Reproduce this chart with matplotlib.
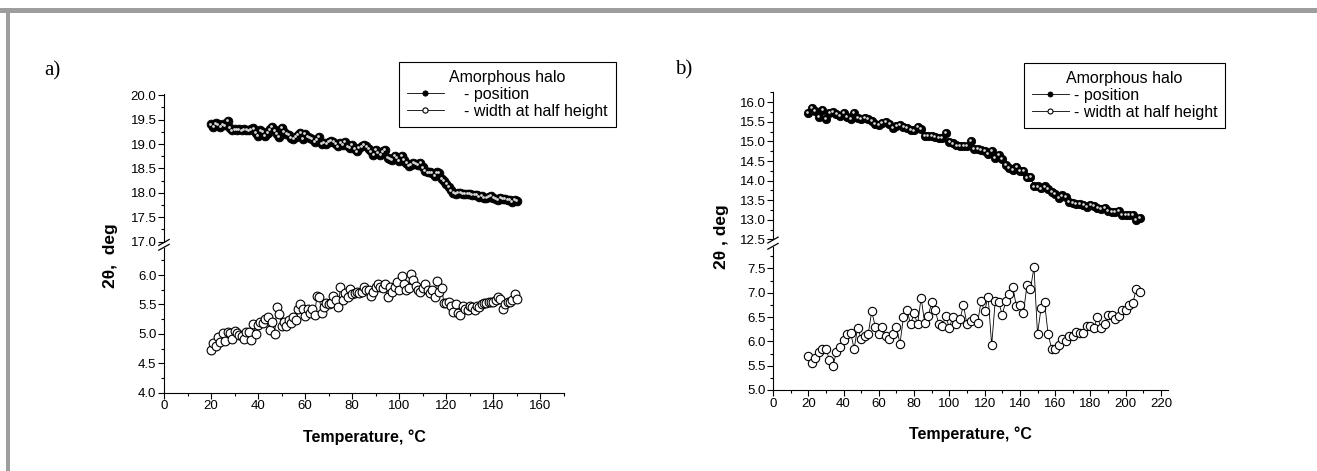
import numpy as np
import matplotlib
matplotlib.use("Agg")
import matplotlib.pyplot as plt
import matplotlib.transforms as mtransforms
from matplotlib.ticker import MultipleLocator
from matplotlib.patches import Rectangle

plt.rcParams['font.family'] = ['Liberation Sans', 'DejaVu Sans']

# ---- data ----
temp_a = np.arange(20, 151)
pos_a = [19.40, 19.35, 19.42, 19.40, 19.35, 19.40, 19.38, 19.47, 19.33, 19.28,
         19.30, 19.29, 19.30, 19.28, 19.30, 19.29, 19.28, 19.30, 19.32, 19.22,
         19.17, 19.28, 19.25, 19.17, 19.22, 19.30, 19.35, 19.28, 19.20, 19.14,
         19.33, 19.25, 19.20, 19.18, 19.12, 19.10, 19.15, 19.18, 19.22, 19.10,
         19.20, 19.15, 19.12, 19.10, 19.05, 19.08, 19.15, 19.00, 19.02, 19.00,
         19.05, 19.06, 19.05, 19.00, 18.95, 19.02, 18.98, 19.05, 18.95, 18.92,
         18.98, 18.90, 18.85, 18.92, 18.95, 18.98, 18.95, 18.90, 18.85, 18.78,
         18.88, 18.82, 18.78, 18.85, 18.88, 18.72, 18.70, 18.68, 18.75, 18.72,
         18.65, 18.75, 18.68, 18.62, 18.55, 18.58, 18.62, 18.60, 18.58, 18.62,
         18.52, 18.45, 18.42, 18.42, 18.40, 18.35, 18.42, 18.40, 18.28, 18.25,
         18.18, 18.12, 18.05, 18.00, 17.98, 18.00, 18.00, 17.98, 17.98, 17.97,
         17.98, 17.96, 17.95, 17.95, 17.92, 17.93, 17.90, 17.90, 17.92, 17.93,
         17.90, 17.88, 17.85, 17.90, 17.88, 17.87, 17.85, 17.86, 17.82, 17.85,
         17.84]
width_a = [4.72, 4.85, 4.80, 4.95, 4.86, 5.02, 4.88, 5.03, 5.02, 4.92,
           5.05, 5.02, 4.98, 4.96, 4.91, 5.03, 5.03, 4.89, 5.17, 5.00,
           5.15, 5.20, 5.18, 5.25, 5.28, 5.06, 5.20, 5.00, 5.45, 5.33,
           5.14, 5.21, 5.14, 5.24, 5.18, 5.28, 5.24, 5.43, 5.51, 5.42,
           5.30, 5.42, 5.35, 5.42, 5.32, 5.65, 5.62, 5.35, 5.45, 5.53,
           5.50, 5.52, 5.65, 5.58, 5.45, 5.80, 5.58, 5.70, 5.62, 5.76,
           5.68, 5.70, 5.72, 5.70, 5.72, 5.80, 5.75, 5.75, 5.65, 5.72,
           5.80, 5.85, 5.80, 5.78, 5.85, 5.63, 5.80, 5.72, 5.80, 5.88,
           5.75, 5.98, 5.85, 5.75, 5.78, 6.02, 5.92, 5.82, 5.75, 5.72,
           5.78, 5.85, 5.75, 5.70, 5.75, 5.62, 5.90, 5.72, 5.78, 5.52,
           5.52, 5.55, 5.48, 5.38, 5.50, 5.35, 5.32, 5.48, 5.42, 5.40,
           5.48, 5.45, 5.40, 5.48, 5.45, 5.50, 5.52, 5.52, 5.55, 5.55,
           5.55, 5.58, 5.62, 5.60, 5.42, 5.50, 5.55, 5.55, 5.58, 5.68,
           5.60]

temp_b = np.arange(20, 209, 2)
pos_b = [15.72, 15.85, 15.78, 15.62, 15.80, 15.58, 15.72, 15.75, 15.70, 15.65,
         15.72, 15.62, 15.58, 15.72, 15.60, 15.58, 15.60, 15.58, 15.52, 15.45,
         15.42, 15.48, 15.50, 15.45, 15.35, 15.40, 15.42, 15.38, 15.35, 15.30,
         15.28, 15.38, 15.32, 15.15, 15.15, 15.15, 15.12, 15.10, 15.08, 15.22,
         14.98, 14.95, 14.90, 14.88, 14.88, 14.88, 15.02, 14.80, 14.80, 14.78,
         14.75, 14.68, 14.75, 14.58, 14.65, 14.55, 14.40, 14.32, 14.28, 14.35,
         14.25, 14.25, 14.08, 14.10, 13.85, 13.85, 13.80, 13.85, 13.78, 13.72,
         13.65, 13.55, 13.62, 13.58, 13.45, 13.42, 13.40, 13.40, 13.38, 13.32,
         13.38, 13.35, 13.30, 13.28, 13.30, 13.22, 13.20, 13.20, 13.22, 13.12,
         13.12, 13.12, 13.12, 13.00, 13.05]
width_b = [5.70, 5.55, 5.65, 5.78, 5.85, 5.85, 5.62, 5.50, 5.78, 5.88,
           6.03, 6.15, 6.18, 5.85, 6.28, 6.05, 6.10, 6.15, 6.62, 6.30,
           6.15, 6.30, 6.12, 6.05, 6.15, 6.30, 5.95, 6.50, 6.65, 6.35,
           6.58, 6.35, 6.90, 6.38, 6.52, 6.80, 6.65, 6.35, 6.32, 6.52,
           6.28, 6.50, 6.35, 6.45, 6.75, 6.35, 6.42, 6.48, 6.38, 6.82,
           6.62, 6.92, 5.92, 6.82, 6.80, 6.55, 6.82, 6.98, 7.12, 6.72,
           6.75, 6.58, 7.15, 7.08, 7.52, 6.15, 6.68, 6.80, 6.15, 5.85,
           5.85, 5.92, 6.05, 6.00, 6.12, 6.12, 6.20, 6.18, 6.18, 6.32,
           6.32, 6.28, 6.50, 6.28, 6.35, 6.55, 6.55, 6.45, 6.52, 6.65,
           6.65, 6.75, 6.78, 7.08, 7.02]

W, H = 1317, 471
fig = plt.figure(figsize=(W / 100, H / 100), dpi=100)


def px_rect(left, right, top, bottom):
    return [left / W, 1 - bottom / H, (right - left) / W, (bottom - top) / H]


def style_axis(ax, show_x):
    ax.spines['top'].set_visible(False)
    ax.spines['right'].set_visible(False)
    ax.yaxis.set_major_locator(MultipleLocator(0.5))
    ax.yaxis.set_minor_locator(MultipleLocator(0.25))
    ax.yaxis.set_major_formatter('{x:.1f}')
    ax.tick_params(axis='both', which='major', direction='out', length=4, width=0.8, labelsize=9.5, pad=1.5)
    ax.tick_params(axis='both', which='minor', direction='out', length=2.2, width=0.8)
    if show_x:
        ax.xaxis.set_major_locator(MultipleLocator(20))
        ax.xaxis.set_minor_locator(MultipleLocator(10))
    else:
        ax.spines['bottom'].set_visible(False)
        ax.tick_params(axis='x', which='both', bottom=False, labelbottom=False)


def break_marks(ax_up, ax_lo):
    kw = dict(color='black', lw=0.9, clip_on=False)
    ax_lo.plot([-0.013, 0.013], [0.985, 1.025], transform=ax_lo.transAxes, **kw)
    ax_up.plot([-0.013, 0.013], [-0.025, 0.015], transform=ax_up.transAxes, **kw)


def draw_panel(rect_up, rect_lo, temp, pos, width, xlim, ylim_up, ylim_lo, ms):
    ax_up = fig.add_axes(rect_up)
    ax_lo = fig.add_axes(rect_lo)
    line_pos, = ax_up.plot(temp, pos, '-', color='black', lw=0.6, marker='o', ms=ms,
                           mfc='black', mec='black', mew=0.6)
    shine = mtransforms.offset_copy(ax_up.transData, fig=fig, x=-0.6, y=0.6, units='points')
    ax_up.plot(temp, pos, 'o', ms=ms * 0.32, mfc='#d8d8d8', mec='none', transform=shine)
    line_w, = ax_lo.plot(temp, width, '-', color='black', lw=0.6, marker='o', ms=ms,
                         mfc='white', mec='black', mew=0.8)
    for ax, yl, sx in [(ax_up, ylim_up, False), (ax_lo, ylim_lo, True)]:
        ax.set_xlim(*xlim)
        ax.set_ylim(*yl)
        style_axis(ax, sx)
    break_marks(ax_up, ax_lo)
    return ax_up, ax_lo, line_pos, line_w


ax_up_a, ax_lo_a, lp_a, lw_a = draw_panel(px_rect(164, 564, 93.7, 241.7), px_rect(164, 564, 248, 392.7),
                                         temp_a, pos_a, width_a, (0, 170), (17.0, 20.03), (4.0, 6.46), 6.3)
ax_up_b, ax_lo_b, lp_b, lw_b = draw_panel(px_rect(773, 1168, 92.3, 239.3), px_rect(773, 1168, 247, 390),
                                         temp_b, pos_b, width_b, (0, 224), (12.5, 16.255), (5.0, 7.94), 6.0)

# axis labels
lab = dict(fontsize=11.5, fontweight='bold')
ax_lo_a.set_xlabel('Temperature, °C', labelpad=12, **lab)
ax_lo_b.set_xlabel('Temperature, °C', labelpad=12, **lab)
fig.text(111 / W, 1 - 256 / H, '2θ,  deg', rotation=90, ha='center', va='center', fontsize=12.5, fontweight='bold')
fig.text(721 / W, 1 - 237 / H, '2θ , deg', rotation=90, ha='center', va='center', fontsize=12.5, fontweight='bold')

# panel letters
fig.text(44 / W, 1 - 71 / H, 'a)', family='Liberation Serif', fontsize=15, va='center')
fig.text(675 / W, 1 - 70 / H, 'b)', family='Liberation Serif', fontsize=15, va='center')

# legends
for ax, lp, lw_, anchor, pad in [(ax_up_a, lp_a, lw_a, (399, 62), 1.3), (ax_up_b, lp_b, lw_b, (1024, 63), 0.3)]:
    leg = ax.legend([lp, lw_], ['- position', '- width at half height'], title='Amorphous halo',
                    loc='upper left', bbox_to_anchor=(anchor[0] / W, 1 - anchor[1] / H),
                    bbox_transform=fig.transFigure, fontsize=11.5, title_fontsize=11.5,
                    frameon=True, fancybox=False, edgecolor='black', framealpha=1,
                    handlelength=2.3, handletextpad=pad, labelspacing=0.12, borderpad=0.5,
                    markerscale=0.6, borderaxespad=0)
    leg.get_frame().set_linewidth(0.8)

# grey page frame
fig.add_artist(Rectangle((0, 1 - 13 / H), 1, 5 / H, transform=fig.transFigure, color='#9e9e9e', lw=0))
fig.add_artist(Rectangle((6 / W, 0), 4 / W, 1 - 8 / H, transform=fig.transFigure, color='#9e9e9e', lw=0))

fig.savefig('out.png', dpi=100)
